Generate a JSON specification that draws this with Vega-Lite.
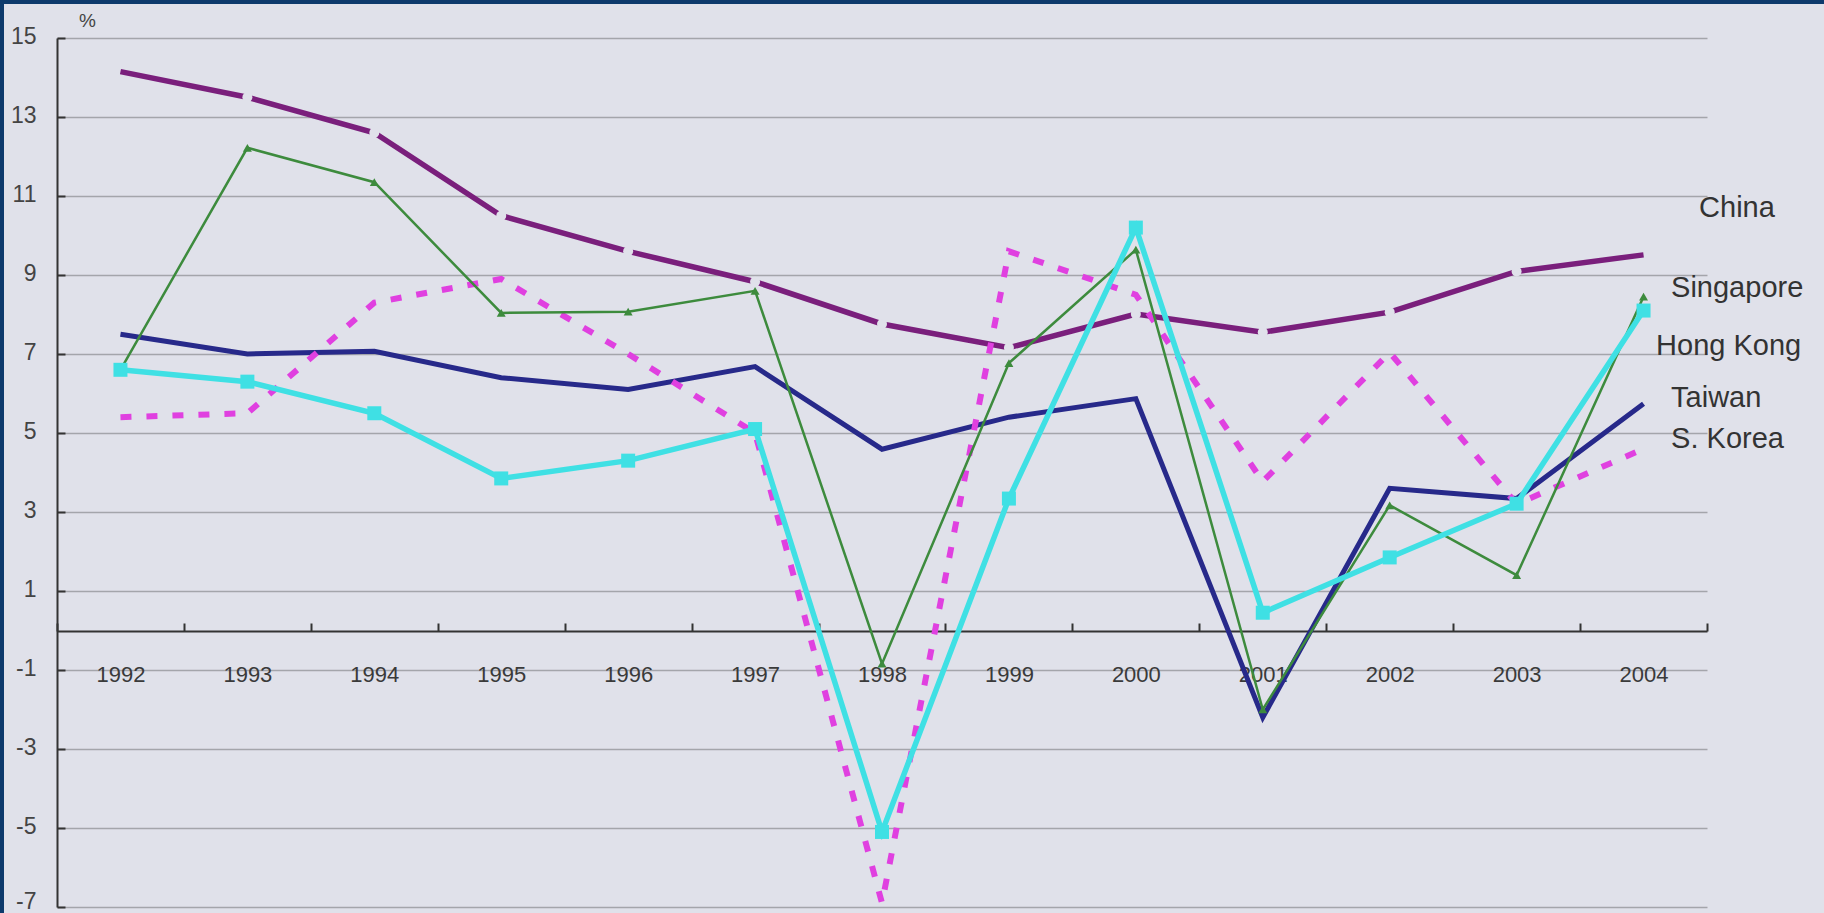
{
  "$schema": "https://vega.github.io/schema/vega-lite/v6.json",
  "width": 1820,
  "height": 909,
  "autosize": "none",
  "padding": {"left": 4, "top": 4, "right": 0, "bottom": 0},
  "background": "#0d3a6c",
  "config": {
    "view": {"stroke": null, "fill": "#e0e1ea"},
    "font": "Liberation Sans"
  },
  "datasets": {
    "growth": [
      {"year": "1992", "series": "China", "value": 14.15},
      {"year": "1993", "series": "China", "value": 13.5},
      {"year": "1994", "series": "China", "value": 12.6},
      {"year": "1995", "series": "China", "value": 10.5},
      {"year": "1996", "series": "China", "value": 9.6},
      {"year": "1997", "series": "China", "value": 8.83},
      {"year": "1998", "series": "China", "value": 7.76},
      {"year": "1999", "series": "China", "value": 7.16},
      {"year": "2000", "series": "China", "value": 8.01},
      {"year": "2001", "series": "China", "value": 7.55},
      {"year": "2002", "series": "China", "value": 8.06},
      {"year": "2003", "series": "China", "value": 9.09},
      {"year": "2004", "series": "China", "value": 9.51},
      {"year": "1992", "series": "Singapore", "value": 6.6},
      {"year": "1993", "series": "Singapore", "value": 12.22},
      {"year": "1994", "series": "Singapore", "value": 11.35},
      {"year": "1995", "series": "Singapore", "value": 8.04},
      {"year": "1996", "series": "Singapore", "value": 8.07},
      {"year": "1997", "series": "Singapore", "value": 8.6},
      {"year": "1998", "series": "Singapore", "value": -0.84},
      {"year": "1999", "series": "Singapore", "value": 6.77},
      {"year": "2000", "series": "Singapore", "value": 9.64},
      {"year": "2001", "series": "Singapore", "value": -2.0},
      {"year": "2002", "series": "Singapore", "value": 3.17},
      {"year": "2003", "series": "Singapore", "value": 1.4},
      {"year": "2004", "series": "Singapore", "value": 8.45},
      {"year": "1992", "series": "Hong Kong", "value": 6.6},
      {"year": "1993", "series": "Hong Kong", "value": 6.3},
      {"year": "1994", "series": "Hong Kong", "value": 5.5},
      {"year": "1995", "series": "Hong Kong", "value": 3.85},
      {"year": "1996", "series": "Hong Kong", "value": 4.3},
      {"year": "1997", "series": "Hong Kong", "value": 5.1},
      {"year": "1998", "series": "Hong Kong", "value": -5.1},
      {"year": "1999", "series": "Hong Kong", "value": 3.34},
      {"year": "2000", "series": "Hong Kong", "value": 10.2},
      {"year": "2001", "series": "Hong Kong", "value": 0.45},
      {"year": "2002", "series": "Hong Kong", "value": 1.85},
      {"year": "2003", "series": "Hong Kong", "value": 3.21},
      {"year": "2004", "series": "Hong Kong", "value": 8.1},
      {"year": "1992", "series": "Taiwan", "value": 7.5},
      {"year": "1993", "series": "Taiwan", "value": 7.0},
      {"year": "1994", "series": "Taiwan", "value": 7.07},
      {"year": "1995", "series": "Taiwan", "value": 6.4},
      {"year": "1996", "series": "Taiwan", "value": 6.1},
      {"year": "1997", "series": "Taiwan", "value": 6.68},
      {"year": "1998", "series": "Taiwan", "value": 4.59},
      {"year": "1999", "series": "Taiwan", "value": 5.4},
      {"year": "2000", "series": "Taiwan", "value": 5.87},
      {"year": "2001", "series": "Taiwan", "value": -2.2},
      {"year": "2002", "series": "Taiwan", "value": 3.6},
      {"year": "2003", "series": "Taiwan", "value": 3.34},
      {"year": "2004", "series": "Taiwan", "value": 5.74},
      {"year": "1992", "series": "S. Korea", "value": 5.4},
      {"year": "1993", "series": "S. Korea", "value": 5.5},
      {"year": "1994", "series": "S. Korea", "value": 8.3},
      {"year": "1995", "series": "S. Korea", "value": 8.9},
      {"year": "1996", "series": "S. Korea", "value": 7.0},
      {"year": "1997", "series": "S. Korea", "value": 5.0},
      {"year": "1998", "series": "S. Korea", "value": -6.9},
      {"year": "1999", "series": "S. Korea", "value": 9.6},
      {"year": "2000", "series": "S. Korea", "value": 8.5},
      {"year": "2001", "series": "S. Korea", "value": 3.77},
      {"year": "2002", "series": "S. Korea", "value": 7.04},
      {"year": "2003", "series": "S. Korea", "value": 3.2},
      {"year": "2004", "series": "S. Korea", "value": 4.6}
    ],
    "labels": [
      {"name": "China", "value": 10.69},
      {"name": "Singapore", "value": 8.68},
      {"name": "Hong Kong", "value": 7.21},
      {"name": "Taiwan", "value": 5.89},
      {"name": "S. Korea", "value": 4.85}
    ]
  },
  "data": {"name": "growth"},
  "encoding": {
    "x": {
      "field": "year",
      "type": "ordinal",
      "bandPosition": 0.5,
      "scale": {
        "type": "band",
        "domain": ["1992", "1993", "1994", "1995", "1996", "1997", "1998", "1999", "2000", "2001", "2002", "2003", "2004"],
        "range": [53, 1703],
        "paddingInner": 0,
        "paddingOuter": 0
      },
      "axis": {
        "title": null,
        "orient": "bottom",
        "offset": -282,
        "labelAngle": 0,
        "tickBand": "extent",
        "tickSize": -8,
        "tickWidth": 2,
        "tickColor": "#333333",
        "domainColor": "#333333",
        "domainWidth": 2,
        "labelPadding": 51,
        "labelBaseline": "middle",
        "labelFontSize": 22,
        "labelColor": "#3a3a3a",
        "grid": false
      }
    },
    "y": {
      "field": "value",
      "type": "quantitative",
      "scale": {"domain": [-7, 15], "range": [903, 34], "nice": false, "zero": false},
      "axis": {
        "values": [-7, -5, -3, -1, 1, 3, 5, 7, 9, 11, 13, 15],
        "labelExpr": "'' + datum.value",
        "offset": -53,
        "title": "%",
        "titleAngle": 0,
        "titleX": 30,
        "titleY": 16,
        "titleAlign": "center",
        "titleBaseline": "middle",
        "titleFontSize": 19,
        "titleFontWeight": "normal",
        "titleColor": "#444444",
        "labelFontSize": 23,
        "labelColor": "#444444",
        "labelPadding": 29,
        "labelOffset": {"condition": {"test": "datum.value == -7", "value": -6}, "value": -2},
        "tickSize": -8,
        "tickWidth": 2,
        "tickColor": "#333333",
        "domainColor": "#333333",
        "domainWidth": 2,
        "grid": true,
        "gridColor": "#a4a5ab",
        "gridWidth": 1.5
      }
    }
  },
  "layer": [
    {
      "transform": [{"filter": "datum.series == 'China'"}],
      "mark": {"type": "line", "color": "#7a1f7c", "strokeWidth": 5.5}
    },
    {
      "transform": [{"filter": "datum.series == 'China' && datum.year != '1992' && datum.year != '2004'"}],
      "mark": {"type": "point", "shape": "circle", "filled": true, "opacity": 1, "color": "#e0e1ea", "size": 100}
    },
    {
      "transform": [{"filter": "datum.series == 'Taiwan'"}],
      "mark": {"type": "line", "color": "#27298a", "strokeWidth": 5}
    },
    {
      "transform": [{"filter": "datum.series == 'S. Korea'"}],
      "mark": {"type": "line", "color": "#e040e0", "strokeWidth": 6, "strokeDash": [11, 15]}
    },
    {
      "transform": [{"filter": "datum.series == 'Singapore'"}],
      "mark": {"type": "line", "color": "#3d8b3d", "strokeWidth": 2.5}
    },
    {
      "transform": [{"filter": "datum.series == 'Singapore'"}],
      "mark": {"type": "point", "shape": "triangle-up", "filled": true, "opacity": 1, "color": "#3d8b3d", "size": 80}
    },
    {
      "transform": [{"filter": "datum.series == 'Hong Kong'"}],
      "mark": {"type": "line", "color": "#3fe0e4", "strokeWidth": 5.5}
    },
    {
      "transform": [{"filter": "datum.series == 'Hong Kong'"}],
      "mark": {"type": "point", "shape": "square", "filled": true, "opacity": 1, "color": "#3fe0e4", "size": 196}
    },
    {
      "data": {"name": "labels"},
      "transform": [{"filter": "datum.name == 'China'"}],
      "mark": {"type": "text", "align": "left", "baseline": "middle", "dx": 119, "fontSize": 29, "color": "#333333"},
      "encoding": {
        "x": {"datum": "2004", "type": "ordinal", "bandPosition": 0},
        "text": {"field": "name"}
      }
    },
    {
      "data": {"name": "labels"},
      "transform": [{"filter": "datum.name == 'Hong Kong'"}],
      "mark": {"type": "text", "align": "left", "baseline": "middle", "dx": 76, "fontSize": 29, "color": "#333333"},
      "encoding": {
        "x": {"datum": "2004", "type": "ordinal", "bandPosition": 0},
        "text": {"field": "name"}
      }
    },
    {
      "data": {"name": "labels"},
      "transform": [{"filter": "datum.name != 'China' && datum.name != 'Hong Kong'"}],
      "mark": {"type": "text", "align": "left", "baseline": "middle", "dx": 91, "fontSize": 29, "color": "#333333"},
      "encoding": {
        "x": {"datum": "2004", "type": "ordinal", "bandPosition": 0},
        "text": {"field": "name"}
      }
    }
  ]
}
